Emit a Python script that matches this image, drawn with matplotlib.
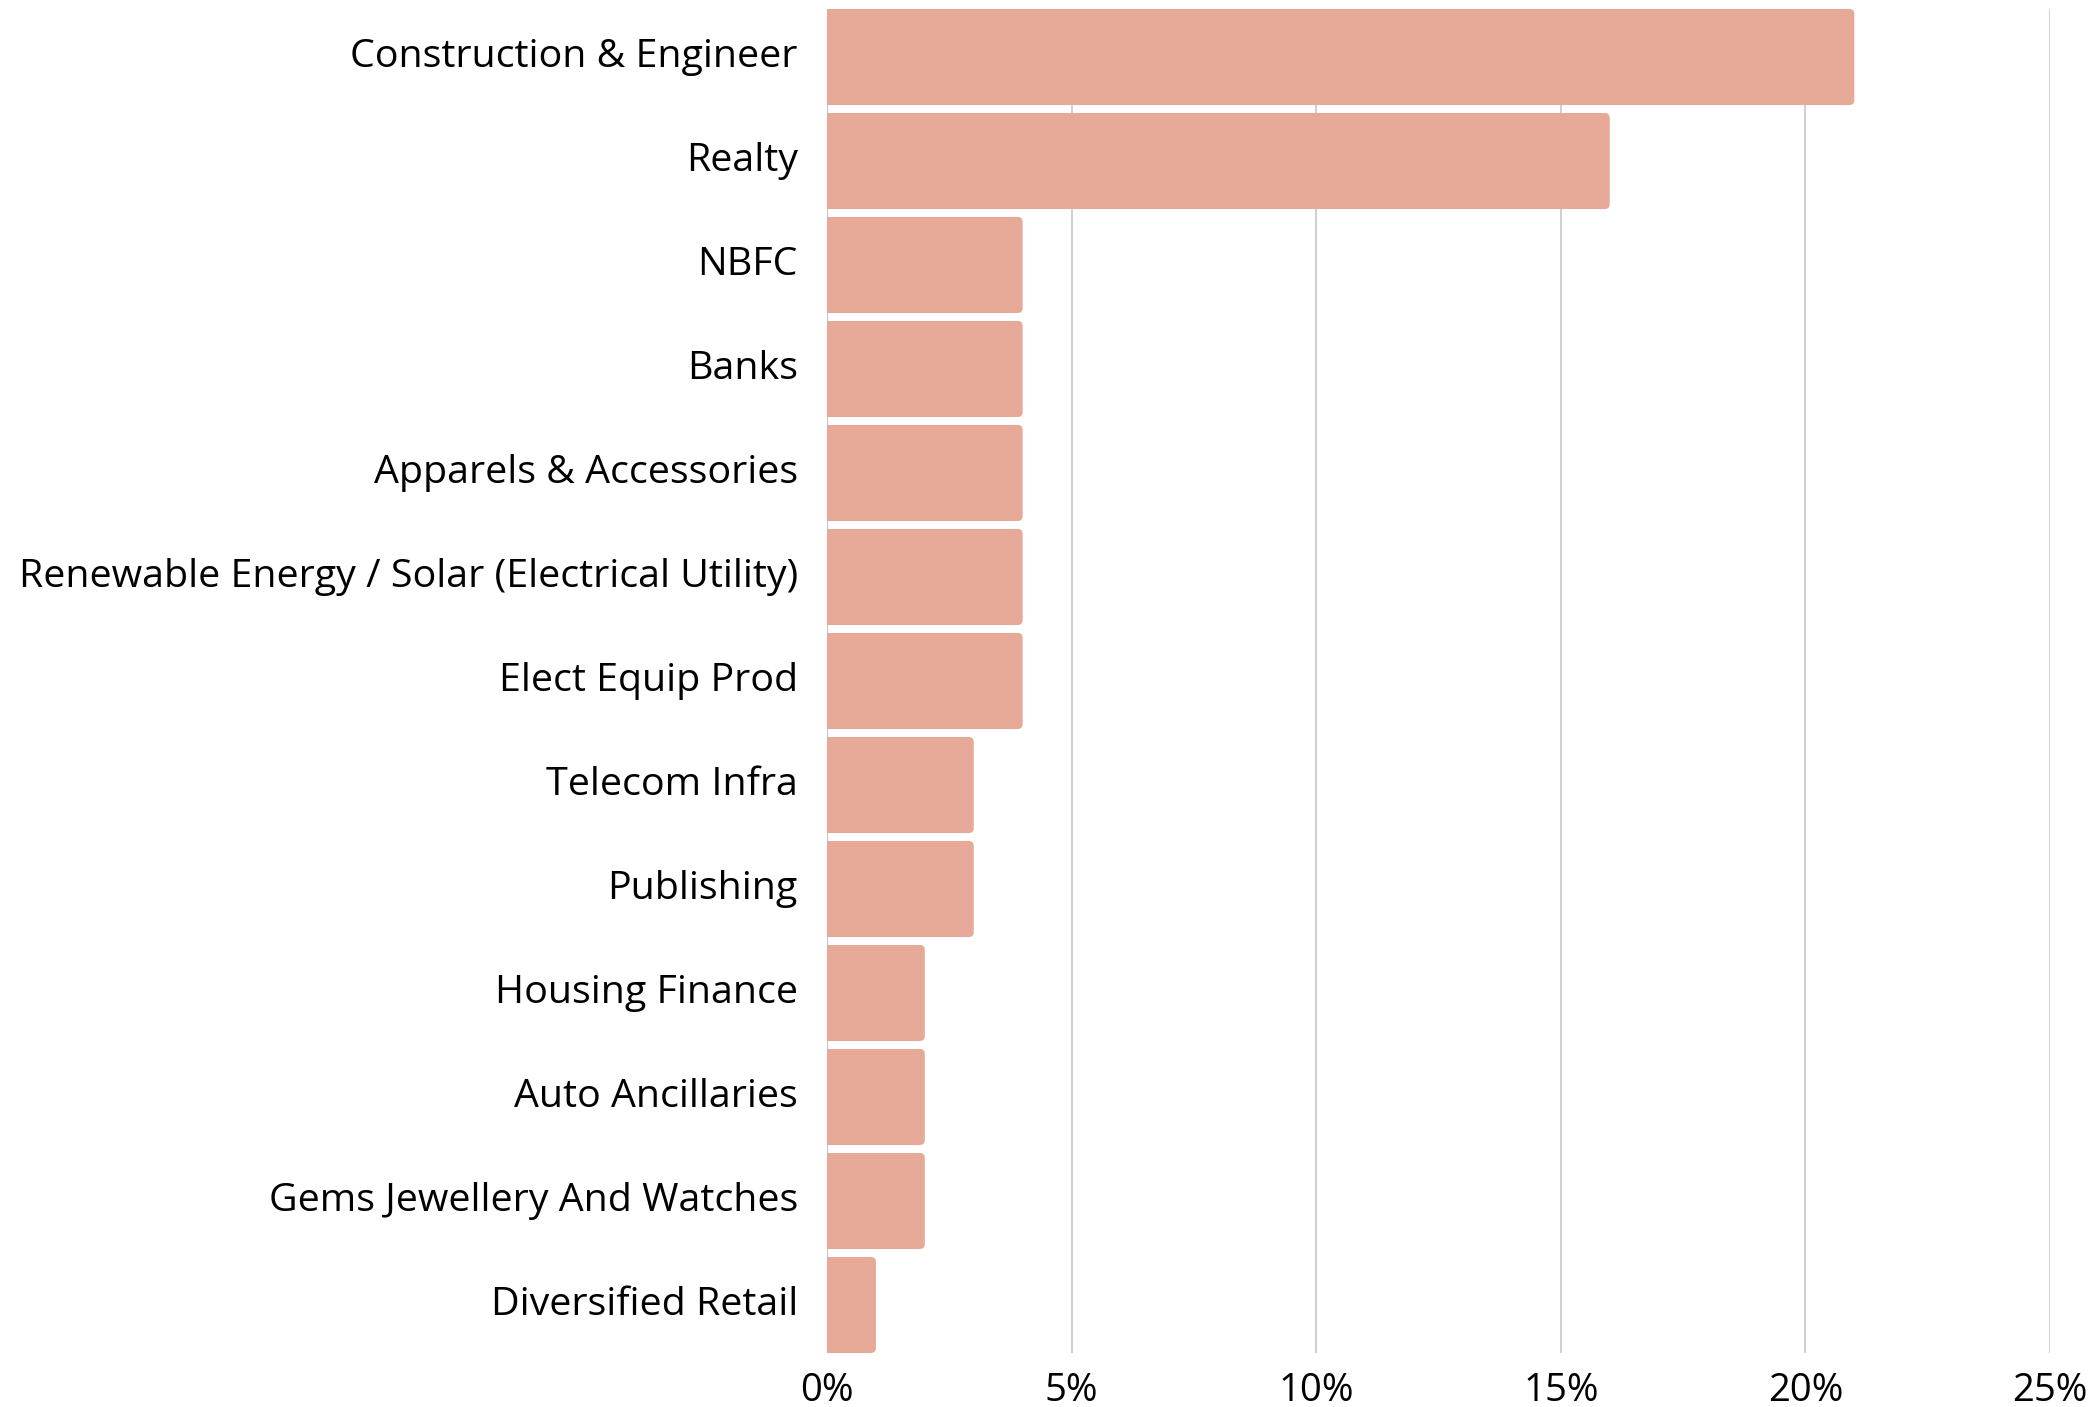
import matplotlib
matplotlib.use("Agg")
import matplotlib.pyplot as plt
import matplotlib.transforms as mtransforms
from matplotlib.patches import FancyBboxPatch, Rectangle
from matplotlib.ticker import FuncFormatter

sectors = ["Construction & Engineer", "Realty", "NBFC", "Banks", "Apparels & Accessories",
           "Renewable Energy / Solar (Electrical Utility)", "Elect Equip Prod", "Telecom Infra",
           "Publishing", "Housing Finance", "Auto Ancillaries", "Gems Jewellery And Watches",
           "Diversified Retail"]
weights = [21, 16, 4, 4, 4, 4, 4, 3, 3, 2, 2, 2, 1]
xticks = [0, 5, 10, 15, 20, 25]

bar_color = "#E7A997"
plt.rcParams['font.family'] = ['Open Sans', 'DejaVu Sans']

fig = plt.figure(figsize=(20.91, 14.07), dpi=100)
ax = fig.add_axes([0.3955, 0.0384, 0.5849, 0.9552])

h = 0.923
bars = ax.barh(range(len(sectors)), weights, height=h, color=bar_color, zorder=3)

# rounded right corners: swap each bar for a rounded box + square left part
r = 0.1
for b in bars:
    x, y, w, hh = b.get_x(), b.get_y(), b.get_width(), b.get_height()
    b.set_visible(False)
    ax.add_patch(FancyBboxPatch((x, y), w, hh, boxstyle="round,pad=0,rounding_size=%s" % r,
                                mutation_aspect=0.48, fc=bar_color, ec="none", zorder=3))
    ax.add_patch(Rectangle((x, y), w - 2 * r, hh, fc=bar_color, ec="none", zorder=3))

ax.set_xlim(0, 25)
ax.set_ylim(len(sectors) - 1 + h / 2, -h / 2)
ax.set_xticks(xticks)
ax.xaxis.set_major_formatter(FuncFormatter(lambda v, p: "%d%%" % v))
ax.set_yticks(range(len(sectors)))
ax.set_yticklabels(sectors)
ax.tick_params(axis="both", length=0, colors="black")
ax.tick_params(axis="y", pad=21, labelsize=28.4)
ax.tick_params(axis="x", pad=14, labelsize=27.5)

# nudge category labels up a little
shift = mtransforms.ScaledTranslation(0, 4 / 100, fig.dpi_scale_trans)
for lab in ax.get_yticklabels():
    lab.set_transform(lab.get_transform() + shift)

ax.grid(axis="x", color="#cccccc", linewidth=1.3, zorder=0)
ax.axvline(0, color="#888888", linewidth=1.5, zorder=1)
for s in ax.spines.values():
    s.set_visible(False)

fig.savefig("out.png", dpi=100)
